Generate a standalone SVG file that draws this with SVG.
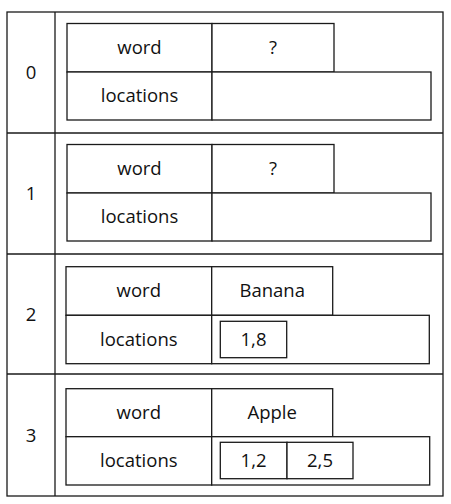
<svg xmlns="http://www.w3.org/2000/svg" width="451" height="504" viewBox="0 0 451 504">
<style>
.ln{fill:none;stroke:#1a1a1a;stroke-width:1.3}
.c{fill:#fff;stroke:#1a1a1a;stroke-width:1.3}
text{font-family:"Open Sans","Liberation Sans",sans-serif;font-size:18.5px;fill:#111;text-anchor:middle}
</style>
<rect width="451" height="504" fill="#fff"/>
<g id="table">
<rect class="ln" x="7" y="12" width="436" height="484"/>
<line class="ln" x1="55" y1="12" x2="55" y2="496"/>
<line class="ln" x1="7" y1="133" x2="443" y2="133"/>
<line class="ln" x1="7" y1="254" x2="443" y2="254"/>
<line class="ln" x1="7" y1="374" x2="443" y2="374"/>
<text x="31" y="78.5">0</text>
<text x="31" y="199.5">1</text>
<text x="31" y="320.5">2</text>
<text x="31" y="441.5">3</text>
</g>
<g id="node0">
<rect class="c" x="67" y="23.5" width="145" height="48.5"/>
<rect class="c" x="212" y="23.5" width="122" height="48.5"/>
<rect class="c" x="67" y="72" width="145" height="48"/>
<rect class="c" x="212" y="72" width="219" height="48"/>
<text x="139.5" y="54">word</text>
<text x="273" y="54">?</text>
<text x="139.5" y="102">locations</text>
</g>
<g id="node1">
<rect class="c" x="67" y="144.5" width="145" height="48.5"/>
<rect class="c" x="212" y="144.5" width="122" height="48.5"/>
<rect class="c" x="67" y="193" width="145" height="48"/>
<rect class="c" x="212" y="193" width="219" height="48"/>
<text x="139.5" y="175">word</text>
<text x="273" y="175">?</text>
<text x="139.5" y="223">locations</text>
</g>
<g id="node2">
<rect class="c" x="66" y="266.7" width="145.7" height="48.6"/>
<rect class="c" x="211.7" y="266.7" width="121" height="48.6"/>
<rect class="c" x="66" y="315.3" width="145.7" height="48.4"/>
<rect class="c" x="211.7" y="315.3" width="217.6" height="48.4"/>
<rect class="c" x="220.3" y="321.3" width="66.4" height="36.4"/>
<text x="138.8" y="297">word</text>
<text x="272.2" y="297">Banana</text>
<text x="138.8" y="345.5">locations</text>
<text x="253.5" y="345.5">1,8</text>
</g>
<g id="node3">
<rect class="c" x="66" y="388.7" width="145.7" height="48"/>
<rect class="c" x="211.7" y="388.7" width="121" height="48"/>
<rect class="c" x="66" y="436.7" width="145.7" height="48.3"/>
<rect class="c" x="211.7" y="436.7" width="218" height="48.3"/>
<rect class="c" x="220.3" y="442.3" width="66.7" height="36.4"/>
<rect class="c" x="287" y="442.3" width="66" height="36.4"/>
<text x="138.8" y="418.5">word</text>
<text x="272.2" y="418.5">Apple</text>
<text x="138.8" y="467">locations</text>
<text x="253.6" y="467">1,2</text>
<text x="320" y="467">2,5</text>
</g>
<g id="connectors"></g>
</svg>
